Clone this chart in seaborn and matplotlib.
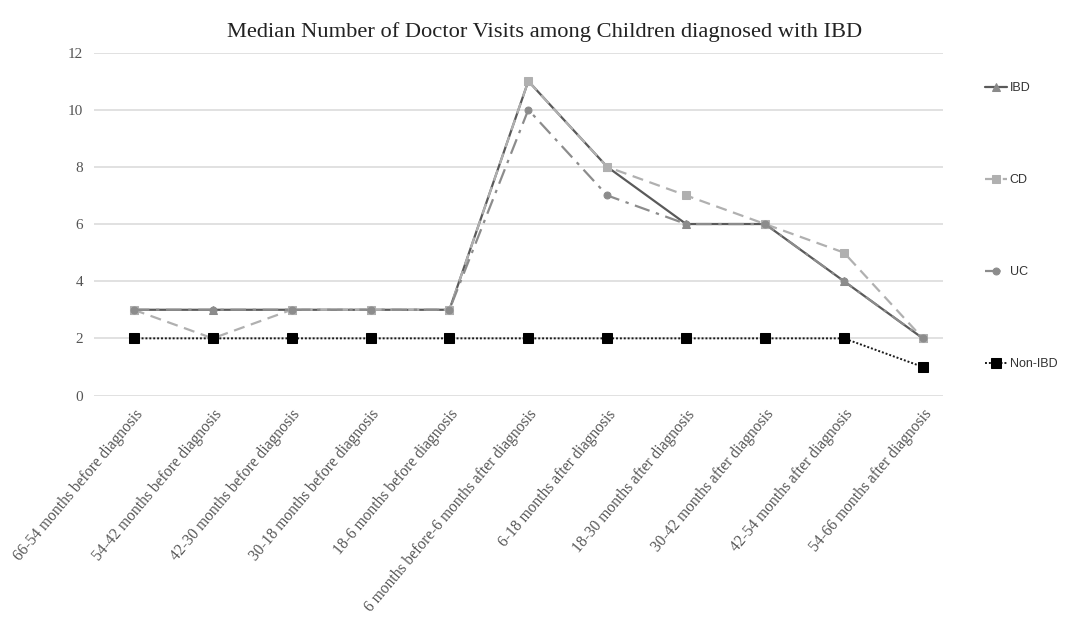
import matplotlib
matplotlib.use("Agg")
import matplotlib.pyplot as plt
import seaborn as sns
import pandas as pd

periods = [
    "66-54 months before diagnosis",
    "54-42 months before diagnosis",
    "42-30 months before diagnosis",
    "30-18 months before diagnosis",
    "18-6 months before diagnosis",
    "6 months before-6 months after diagnosis",
    "6-18 months after diagnosis",
    "18-30 months after diagnosis",
    "30-42 months after diagnosis",
    "42-54 months after diagnosis",
    "54-66 months after diagnosis",
]
ibd = [3, 3, 3, 3, 3, 11, 8, 6, 6, 4, 2]
cd = [3, 2, 3, 3, 3, 11, 8, 7, 6, 5, 2]
uc = [3, 3, 3, 3, 3, 10, 7, 6, 6, 4, 2]
non_ibd = [2, 2, 2, 2, 2, 2, 2, 2, 2, 2, 1]
y_ticks = [0, 2, 4, 6, 8, 10, 12]

series = {"IBD": ibd, "CD": cd, "UC": uc, "Non-IBD": non_ibd}
styles = {
    "IBD": dict(color="#5a5a5a", linestyle="-", marker="^", markersize=6, lw=1.6,
                mfc="#8a8a8a", mec="#8a8a8a"),
    "CD": dict(color="#b0b0b0", linestyle=(0, (5, 3)), marker="s", markersize=6, lw=1.6,
               mfc="#b0b0b0", mec="#b0b0b0"),
    "UC": dict(color="#8c8c8c", linestyle=(0, (7, 3, 1.5, 3)), marker="o", markersize=5, lw=1.6,
               mfc="#8c8c8c", mec="#8c8c8c"),
    "Non-IBD": dict(color="#1a1a1a", linestyle=(0, (1, 1)), marker="s", markersize=6.5, lw=1.4,
                    mfc="#000000", mec="#000000"),
}

sns.set_theme(style="white")
serif = ["Liberation Serif", "DejaVu Serif"]

fig = plt.figure(figsize=(10.72, 6.18), dpi=100)
ax = fig.add_axes([0.088, 0.36, 0.792, 0.555])

pos = list(range(len(periods)))
for name, vals in series.items():
    df = pd.DataFrame({"x": pos, "y": vals})
    st = styles[name]
    sns.lineplot(data=df, x="x", y="y", ax=ax, label=name, color=st["color"],
                 linestyle=st["linestyle"], marker=st["marker"], markersize=st["markersize"],
                 linewidth=st["lw"], markerfacecolor=st["mfc"], markeredgecolor=st["mec"],
                 legend=False)

ax.set_xlim(-0.5, 10.26)
ax.set_ylim(0, 12)
ax.set_yticks(y_ticks)
ax.set_yticklabels([str(t) for t in y_ticks], fontfamily=serif, fontsize=11, color="#555555")
ax.set_xticks(pos)
ax.set_xticklabels(periods, rotation=50, ha="right", rotation_mode="anchor",
                   fontfamily=serif, fontsize=11.2, color="#555555")
ax.tick_params(axis="both", length=0, pad=8)
ax.set_xlabel("")
ax.set_ylabel("")
ax.yaxis.grid(True, color="#dcdcdc", linewidth=1.2)
ax.set_axisbelow(True)
for s in ax.spines.values():
    s.set_visible(False)

fig.suptitle("Median Number of Doctor Visits among Children diagnosed with IBD",
             x=0.508, y=0.965, fontfamily=serif, fontsize=16.2, color="#222222")

handles, labels = ax.get_legend_handles_labels()
leg = fig.legend(handles, labels, loc="upper left", bbox_to_anchor=(0.908, 0.885),
                 frameon=False, handlelength=1.8, handletextpad=0.2, labelspacing=6.4,
                 prop={"family": ["Liberation Sans", "DejaVu Sans"], "size": 9})
for t in leg.get_texts():
    t.set_color("#333333")

fig.savefig("out.png", dpi=100, facecolor="white")
